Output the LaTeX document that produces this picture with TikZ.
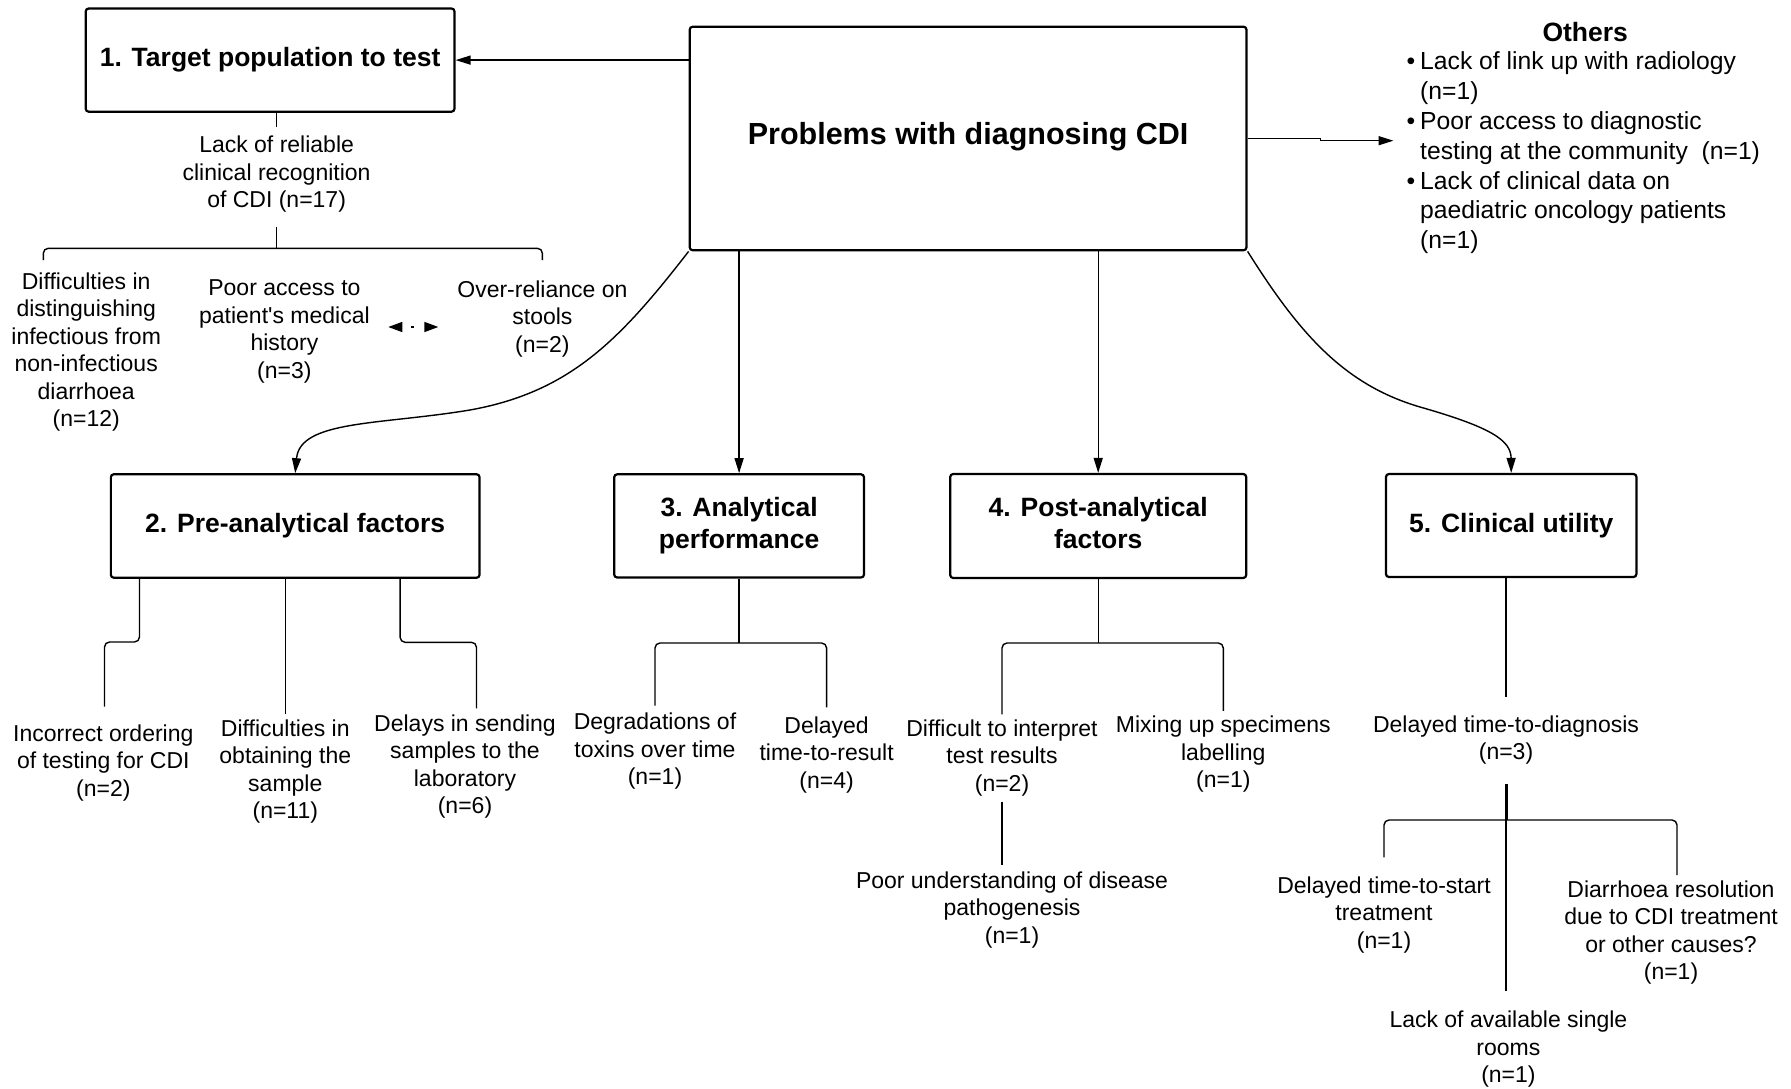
\documentclass[tikz,border=0pt]{standalone}
\usepackage{fontspec}
\setmainfont{Liberation Sans}
\usetikzlibrary{arrows.meta,calc}

\begin{document}
\begin{tikzpicture}[x=1pt,y=-1pt,
  box/.style={draw, line width=2.2pt, rounded corners=3pt, inner sep=0pt, align=center,
    font=\fontsize{26.5}{32}\selectfont\bfseries},
  txt/.style={inner sep=0pt, align=center, font=\fontsize{23}{27.5}\selectfont},
  conn/.style={line width=1.4pt},
  arr/.style={conn, -{Triangle[length=15pt,width=9pt]}},
  fork/.style={conn, rounded corners=5pt},
  dotarr/.style={conn, -{Triangle[length=14pt,width=10pt]}, dash pattern=on 1.5pt off 60pt},
]
\fill[white] (0,0) rectangle (1791,1089);
\useasboundingbox (0,0) rectangle (1791,1089);

% ---------- main boxes ----------
\node[box, minimum width=556.8pt, minimum height=223.6pt, text depth=11pt,
      font=\fontsize{30.5}{36}\selectfont\bfseries] (b0) at (968.1,138.5) {Problems with diagnosing CDI};
\node[box, minimum width=368.8pt, minimum height=103.2pt] (b1) at (270.1,60.1) {1. Target population to test};
\node[box, minimum width=368.7pt, minimum height=103.5pt] (b2) at (295.2,526) {2. Pre-analytical factors};
\node[box, minimum width=249.8pt, minimum height=103.2pt] (b3) at (739.1,525.9) {3. Analytical\\performance};
\node[box, minimum width=296pt, minimum height=104pt] (b4) at (1098.2,526) {4. Post-analytical\\factors\vphantom{p}};
\node[box, minimum width=250.5pt, minimum height=103pt] (b5) at (1511.2,525.5) {5. Clinical utility};

% ---------- others ----------
\node[inner sep=0pt, font=\fontsize{26.5}{32}\selectfont\bfseries] (othT) at (1585.2,31.7) {Others};
\node[anchor=west, inner sep=0pt, align=left, font=\fontsize{24.7}{29.9}\selectfont] (oth) at (1420,152.8)
  {\llap{\textbullet\hspace{5pt}}Lack of link up with radiology\\(n=1)\\\llap{\textbullet\hspace{5pt}}Poor access to diagnostic\\testing at the community~~(n=1)\\\llap{\textbullet\hspace{5pt}}Lack of clinical data on\\paediatric oncology patients\\(n=1)};

% ---------- target population branch ----------
\node[txt] (t1) at (276.6,174.2) {Lack of reliable\\clinical recognition\\of CDI (n=17)};
\node[txt] (d1) at (86.2,352) {Difficulties in\\distinguishing\\infectious from\\non-infectious\\diarrhoea\\(n=12)};
\node[txt] (d2) at (284.4,331.3) {Poor access to\\patient\textquotesingle s medical\\history\\(n=3)};
\node[txt] (d3) at (542.4,318.8) {Over-reliance on\\stools\\(n=2)};

% ---------- pre-analytical ----------
\node[txt] (p1) at (103.3,762.8) {Incorrect ordering\\of testing for CDI\\(n=2)};
\node[txt] (p2) at (285.3,771.3) {Difficulties in\\obtaining the\\sample\\(n=11)};
\node[txt] (p3) at (465,766.7) {Delays in sending\\samples to the\\laboratory\\(n=6)};

% ---------- analytical ----------
\node[txt] (a1) at (655,751.5) {Degradations of\\toxins over time\\(n=1)};
\node[txt] (a2) at (826.6,754.8) {Delayed\\time-to-result\\(n=4)};

% ---------- post-analytical ----------
\node[txt] (q1) at (1002,757.9) {Difficult to interpret\\test results\\(n=2)};
\node[txt] (q2) at (1223.3,754.3) {Mixing up specimens\\labelling\\(n=1)};
\node[txt] (q3) at (1012,909.7) {Poor understanding of disease\\pathogenesis\\(n=1)};

% ---------- clinical utility ----------
\node[txt] (c1) at (1506,739.8) {Delayed time-to-diagnosis\\(n=3)};
\node[txt] (c2) at (1384,914.9) {Delayed time-to-start\\treatment\\(n=1)};
\node[txt] (c3) at (1508.4,1049.5) {Lack of available single\\rooms\\(n=1)};
\node[txt] (c4) at (1671,932.3) {Diarrhoea resolution\\due to CDI treatment\\or other causes?\\(n=1)};

% ---------- connectors from the central box ----------
\draw[arr] (b0.west |- b1.east) -- (b1.east);
\coordinate (oin) at (1393.5,140.7);
\draw[arr] (b0.east) -- (1320.5,138.5) |- (oin);
\draw[arr] (b0.south west) .. controls (620,340) and (570,392) .. (470,410)
           .. controls (380,425) and (300,420) .. (b2.north);
\draw[arr] (b0.south -| b3.north) -- (b3.north);
\draw[arr] (b0.south -| b4.north) -- (b4.north);
\draw[arr] (b0.south east) .. controls (1300,335) and (1345,385) .. (1420,407)
           .. controls (1490,427) and (1511,440) .. (b5.north);

% ---------- target population tree ----------
\draw[conn, shorten >=9pt] (b1.south -| t1.north) -- (t1.north);
\coordinate (k1) at (276.6,248.3);
\coordinate (k1l) at (43.3,260);
\coordinate (k1r) at (542.4,260);
\draw[conn, shorten <=14pt] (t1.south) -- (k1);
\draw[fork] (k1l) |- (k1) -| (k1r);
\coordinate (dl) at (388.3,327);
\coordinate (dm) at (412.7,327);
\coordinate (dr) at (438.3,327);
\draw[dotarr] (dm) -- (dl);
\draw[dotarr] (dm) -- (dr);

% ---------- pre-analytical tree ----------
\coordinate (j21) at (139.5,642);
\coordinate (e21) at (104.5,706.7);
\draw[fork] (b2.south -| j21) -- (j21) -| (e21);
\draw[conn, shorten >=5pt] (b2.south -| p2.north) -- (p2.north);
\coordinate (j23) at (400.1,642.3);
\coordinate (e23) at (476.5,708.3);
\draw[fork] (b2.south -| j23) -- (j23) -| (e23);

% ---------- analytical tree ----------
\coordinate (j3) at (739.1,643);
\draw[conn] (b3.south) -- (j3);
\draw[fork] ([yshift=7.5pt]a1.north) |- (j3) -| ([yshift=9pt]a2.north);

% ---------- post-analytical tree ----------
\coordinate (j4) at (1098.2,643);
\draw[conn] (b4.south) -- (j4);
\draw[fork] ([yshift=5pt]q1.north) |- (j4) -| ([yshift=5pt]q2.north);
\draw[conn, shorten <=5.5pt, shorten >=6pt] (q1.south) -- (q1.south |- q3.north);

% ---------- clinical utility tree ----------
\draw[conn, shorten >=18.6pt] (b5.south -| c1.north) -- (c1.north);
\coordinate (j5) at (1506,820);
\coordinate (e5r) at (1677,875);
\draw[line width=3pt, shorten <=19.5pt] (c1.south) -- (j5);
\draw[fork] ([yshift=19pt]c2.north) |- (j5) -| (e5r);
\draw[conn, shorten >=19.6pt] (j5) -- (j5 |- c3.north);

\end{tikzpicture}
\end{document}
